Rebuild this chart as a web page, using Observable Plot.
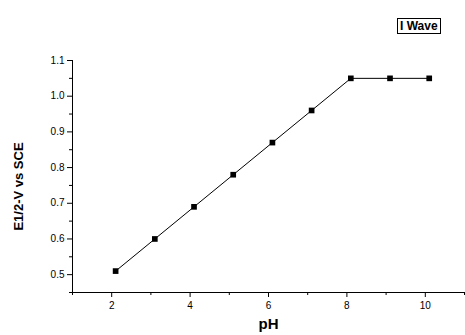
<!DOCTYPE html>
<html>
<head>
<meta charset="utf-8">
<script src="https://cdn.jsdelivr.net/npm/d3@7"></script>
<script src="https://cdn.jsdelivr.net/npm/@observablehq/plot@0.6"></script>
<style>
  html, body { margin: 0; padding: 0; background: #fff; }
  #wrap { position: relative; width: 465px; height: 335px; font-family: "Liberation Sans", Arial, sans-serif; }
  #legend { position: absolute; left: 397px; top: 18px; border: 1px solid #000; padding: 0 2px; font-weight: bold; font-size: 12px; line-height: 14px; }
</style>
</head>
<body>
<div id="wrap"><div id="legend">I Wave</div></div>
<script>
// Half-wave potential against pH
const pH = [2.1, 3.1, 4.1, 5.1, 6.1, 7.1, 8.1, 9.1, 10.1];
const e12 = [0.51, 0.60, 0.69, 0.78, 0.87, 0.96, 1.05, 1.05, 1.05];
const xMajor = [2, 4, 6, 8, 10];
const xMinor = [1, 3, 5, 7, 9, 11];
const yMajor = [0.5, 0.6, 0.7, 0.8, 0.9, 1.0, 1.1];
const yMinor = [0.45, 0.55, 0.65, 0.75, 0.85, 0.95, 1.05];
const seriesName = "I Wave";

const data = pH.map((x, i) => ({pH: x, e: e12[i]}));

const chart = Plot.plot({
  width: 465,
  height: 335,
  marginLeft: 72,
  marginRight: 1,
  marginTop: 60,
  marginBottom: 43,
  style: {fontFamily: "Liberation Sans, Arial, sans-serif", fontSize: "10px", background: "#fff"},
  x: {domain: [1, 11]},
  y: {domain: [0.45, 1.1]},
  marks: [
    Plot.axisX(xMajor, {tickSize: 5, tickPadding: 4, label: null, fontSize: 10}),
    Plot.axisX(xMinor, {tickSize: 3, tickFormat: () => "", label: null}),
    Plot.axisY(yMajor, {tickSize: 5, tickPadding: 3, tickFormat: d3.format(".1f"), label: null, fontSize: 10}),
    Plot.axisY(yMinor, {tickSize: 3, tickFormat: () => "", label: null}),
    Plot.ruleX([1], {stroke: "#000", strokeWidth: 1}),
    Plot.ruleY([0.45], {stroke: "#000", strokeWidth: 1}),
    Plot.line(data, {x: "pH", y: "e", stroke: "#000", strokeWidth: 1}),
    Plot.dot(data, {x: "pH", y: "e", symbol: "square", r: 3.2, fill: "#000", stroke: null}),
    Plot.text(["pH"], {frameAnchor: "bottom", textAnchor: "middle", lineAnchor: "middle", dy: 32, fontWeight: "bold", fontSize: 15}),
    Plot.text(["E1/2-V vs SCE"], {frameAnchor: "left", textAnchor: "middle", lineAnchor: "middle", dx: -54, dy: 10, rotate: -90, fontWeight: "bold", fontSize: 13})
  ]
});
document.getElementById("wrap").prepend(chart);
chart.style.position = "absolute";
chart.style.left = "0";
chart.style.top = "0";
document.getElementById("legend").textContent = seriesName;
</script>
</body>
</html>
